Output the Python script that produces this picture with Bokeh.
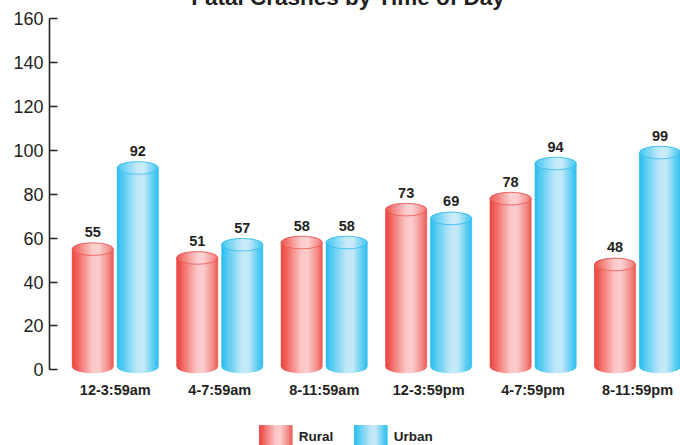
import numpy as np
from bokeh.plotting import figure
from bokeh.models import Range1d, FixedTicker
from bokeh.embed import file_html
from bokeh.resources import INLINE
from bokeh.core.properties import value

# ---------------- data ----------------
categories = ["12-3:59am", "4-7:59am", "8-11:59am", "12-3:59pm", "4-7:59pm", "8-11:59pm"]
rural = [55, 51, 58, 73, 78, 48]
urban = [92, 57, 58, 69, 94, 99]
series_names = ["Rural", "Urban"]
y_ticks = [0, 20, 40, 60, 80, 100, 120, 140, 160]
title_text = "Fatal Crashes by Time of Day"

# ---------------- style ----------------
FONT = "Liberation Sans"
TXT = "#231f20"
PX_Y = 2.194          # pixels per y unit
PX_X = 104.46         # pixels per category
HALF_W = 20.5 / PX_X  # half bar width (data units)
OFFS = [-22.5 / PX_X, 22.5 / PX_X]
HH = 6.3 / PX_Y       # half height of ellipse caps
BASE = 1.5
NSTRIP = 36

RED_STOPS = [(0.0, "#ec3f3a"), (0.10, "#ef5752"), (0.50, "#fbc6c6"), (0.66, "#fccbcb"),
             (0.90, "#f28784"), (1.0, "#ec5a55")]
BLUE_STOPS = [(0.0, "#22baef"), (0.10, "#45c6f2"), (0.50, "#bfe7f8"), (0.66, "#c3e9f8"),
              (0.90, "#55cbf2"), (1.0, "#30c0f0")]
STOPS = [RED_STOPS, BLUE_STOPS]
EDGE = ["#e95551", "#2fbdee"]


def hex2rgb(h):
    h = h.lstrip("#")
    return np.array([int(h[i:i + 2], 16) for i in (0, 2, 4)], dtype=float)


def rgb2hex(c):
    c = np.clip(np.round(c), 0, 255).astype(int)
    return "#%02x%02x%02x" % tuple(c)


def grad(stops, t, lighten=0.0):
    for (p0, c0), (p1, c1) in zip(stops[:-1], stops[1:]):
        if p0 <= t <= p1:
            f = (t - p0) / (p1 - p0) if p1 > p0 else 0
            c = hex2rgb(c0) * (1 - f) + hex2rgb(c1) * f
            break
    else:
        c = hex2rgb(stops[-1][1])
    c = c * (1 - lighten) + 255 * lighten
    return rgb2hex(c)


def ell(u):
    return np.sqrt(max(0.0, 1 - u * u))


p = figure(width=672, height=457,
           x_range=Range1d(-0.1299, 5.911), y_range=Range1d(-34.5, 173.79),
           x_axis_type=None, output_backend="svg", toolbar_location=None,
           min_border_left=41, min_border_right=0, min_border_top=0, min_border_bottom=0,
           styles={"margin-top": "-12px", "margin-left": "8px"})
p.outline_line_color = None
p.grid.visible = False
p.background_fill_color = "white"
p.border_fill_color = "white"

yax = p.yaxis[0]
yax.ticker = FixedTicker(ticks=y_ticks)
yax.bounds = (0, 160)
yax.major_tick_in = 8
yax.major_tick_out = 0
yax.minor_tick_line_color = None
yax.axis_line_width = 1.6
yax.axis_line_color = TXT
yax.major_tick_line_width = 1.6
yax.major_tick_line_color = TXT
yax.major_label_text_font = FONT
yax.major_label_text_font_size = "18px"
yax.major_label_text_color = TXT
yax.major_label_standoff = 6


def strips(cx, bottom_fn, top_fn, stops, lighten, xs, ys, cols):
    for k in range(NSTRIP):
        t0, t1 = k / NSTRIP, (k + 1) / NSTRIP
        u0, u1 = 2 * t0 - 1, 2 * t1 - 1
        x0, x1 = cx + u0 * HALF_W, cx + u1 * HALF_W
        xs.append([x0, x1, x1, x0])
        ys.append([bottom_fn(u0), bottom_fn(u1), top_fn(u1), top_fn(u0)])
        cols.append(grad(stops, (t0 + t1) / 2, lighten))


for s, vals in enumerate([rural, urban]):
    bx, by, bc = [], [], []
    cxs, cys, ccs = [], [], []
    centers = []
    for i, v in enumerate(vals):
        cx = i + 0.5 + OFFS[s]
        centers.append(cx)
        strips(cx, lambda u: BASE - HH * ell(u), lambda u, v=v: v, STOPS[s], 0.0, bx, by, bc)
        strips(cx, lambda u, v=v: v - HH * ell(u), lambda u, v=v: v + HH * ell(u),
               STOPS[s], 0.12, cxs, cys, ccs)
    p.patches(xs=bx, ys=by, fill_color=bc, line_color=bc, line_width=0.8)
    p.patches(xs=cxs, ys=cys, fill_color=ccs, line_color=ccs, line_width=0.8)
    p.ellipse(x=centers, y=vals, width=2 * HALF_W, height=2 * HH, fill_color=None,
              line_color=EDGE[s], line_width=1, line_alpha=0.8)
    p.text(x=centers, y=vals, text=[str(v) for v in vals], text_align="center",
           text_baseline="alphabetic", y_offset=-17, text_font=value(FONT),
           text_font_style="bold", text_font_size="14.5px", text_color=TXT)

# category labels
p.text(x=[i + 0.5 for i in range(len(categories))], y=[0] * len(categories), text=categories,
       text_align="center", text_baseline="alphabetic", y_offset=20.5, text_font=value(FONT),
       text_font_style="bold", text_font_size="14.5px", text_color=TXT)

# title (partially above the page edge, as in the reference)
p.text(x=[2.728], y=[160], text=[title_text], text_align="center", text_baseline="alphabetic",
       y_offset=-21.5, text_font=value(FONT), text_font_style="bold", text_font_size="22.5px",
       text_color=TXT)

# legend
LEG_X = [1.880, 2.790]
LEG_W = 0.313
LEG_TOP, LEG_BOT = -25.4, -34.4
for s, name in enumerate(series_names):
    lx, ly, lc = [], [], []
    for k in range(NSTRIP):
        t0, t1 = k / NSTRIP, (k + 1) / NSTRIP
        x0, x1 = LEG_X[s] + t0 * LEG_W, LEG_X[s] + t1 * LEG_W
        lx.append([x0, x1, x1, x0])
        ly.append([LEG_BOT, LEG_BOT, LEG_TOP, LEG_TOP])
        lc.append(grad(STOPS[s], (t0 + t1) / 2))
    p.patches(xs=lx, ys=ly, fill_color=lc, line_color=lc, line_width=0.8)
    p.text(x=[LEG_X[s] + LEG_W], y=[LEG_BOT], text=[name], text_align="left",
           text_baseline="alphabetic", x_offset=6.5, y_offset=-8.5, text_font=value(FONT),
           text_font_style="bold", text_font_size="13.5px", text_color=TXT)

open("out.html", "w").write(file_html(p, INLINE))
